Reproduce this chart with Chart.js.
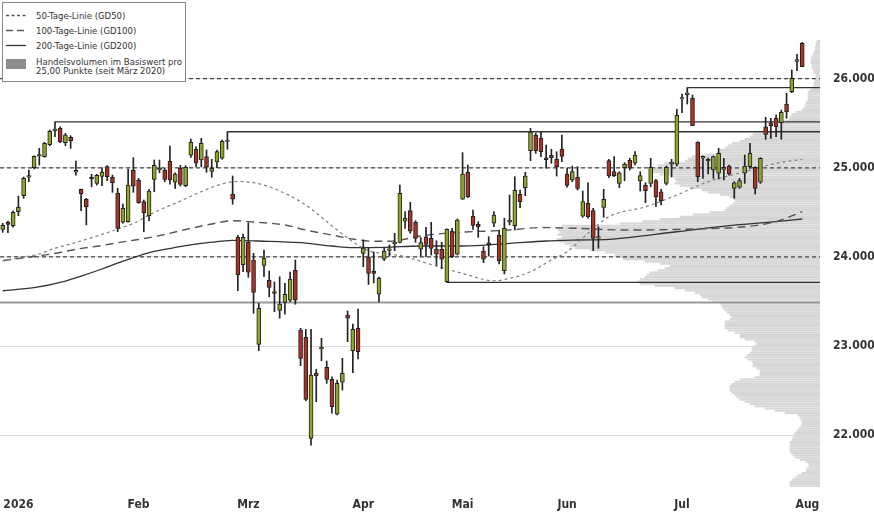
<!DOCTYPE html>
<html>
<head>
<meta charset="utf-8">
<script src="https://cdn.jsdelivr.net/npm/chart.js@4.4.1/dist/chart.umd.min.js"></script>
<style>
body { margin: 0; background: #fff; }
#wrap { position: relative; width: 874px; height: 515px; }
#legendBox { position: absolute; left: 2px; top: 2px; width: 182px; height: 78px; border: 1px solid #8a8a8a; background: #fff; }
.lg { position: absolute; font: 9.5px 'DejaVu Sans Condensed', 'DejaVu Sans', sans-serif; color: #333; white-space: nowrap; line-height: 11px; }
.lgs { position: absolute; left: 6px; }
</style>
</head>
<body>
<div id="wrap">
  <canvas id="chart" width="874" height="515"></canvas>
  <div id="legendBox"></div>
  <svg class="lgs" style="top:14px" width="20" height="3"><line x1="0" y1="1.5" x2="20" y2="1.5" stroke="#555" stroke-width="1.3" stroke-dasharray="3,2.5"/></svg>
  <div class="lg" style="left:36px;top:10px">50-Tage-Linie (GD50)</div>
  <svg class="lgs" style="top:29px" width="20" height="3"><line x1="0" y1="1.5" x2="20" y2="1.5" stroke="#555" stroke-width="1.3" stroke-dasharray="7,4"/></svg>
  <div class="lg" style="left:36px;top:25px">100-Tage-Linie (GD100)</div>
  <svg class="lgs" style="top:44px" width="20" height="3"><line x1="0" y1="1.5" x2="20" y2="1.5" stroke="#333" stroke-width="1.3"/></svg>
  <div class="lg" style="left:36px;top:39.5px">200-Tage-Linie (GD200)</div>
  <div class="lgs" style="top:59px;width:20px;height:10px;background:#8c8c8c"></div>
  <div class="lg" style="left:36px;top:57px;line-height:9.4px">Handelsvolumen im Basiswert pro<br>25,00 Punkte (seit März 2020)</div>
</div>
<script>
// Kerzen (Tageswerte), von links nach rechts
const opens = [24310,24389,24351,24508,24687,24895,25001,25132,25125,25259,25418,25443,25282,25343,24950,24759,24647,24897,24826,24905,
  25013,24894,24714,24389,24396,24972,24860,24620,24463,24871,24976,24976,25073,24838,24998,24799,25141,25208,25088,25125,
  24961,25065,25107,25295,24703,24221,23913,24164,23966,23020,23906,23738,23612,23401,23491,23514,23850,23180,23099,21965,
  22695,22968,22762,22627,22235,22594,23349,22948,23199,24041,24000,23840,23582,23975,24072,24148,24162,24401,24521,24389,
  24086,24227,24209,24089,24086,23722,24291,24030,24647,24950,24456,24366,24067,24158,24378,24246,23846,24389,24351,24703,
  24777,25192,25365,25331,25112,25141,25096,25209,24931,24863,24894,24459,24602,24519,24210,24557,25080,24957,24826,25001,
  25084,25051,24852,24804,24826,24856,24732,24826,25042,25040,25772,25822,25780,25286,25107,25096,24976,24939,24983,25020,
  24770,24782,24939,25013,25006,24838,25461,25506,25556,25506,25716,25854,26195,26397];
const highs = [24378,24403,24516,24684,24897,24976,25136,25219,25286,25424,25515,25461,25387,25360,25077,24762,24658,24927,24927,25001,
  25024,24919,24770,24594,24987,25114,24882,24639,24759,25088,25088,24995,25245,24945,25028,25024,25323,25237,25331,25200,
  25096,25200,25312,25405,24908,24243,24258,24384,24041,23480,24078,23842,23719,23778,23704,23831,23966,23199,23188,23188,
  22739,23087,22833,22656,22619,22863,23394,23248,23416,24190,24100,24056,23775,24100,24134,24265,24807,24508,24614,24407,
  24218,24333,24389,24182,24164,24315,24321,24426,25170,25032,24527,24396,24115,24227,24508,24302,24434,24695,24900,24751,
  24950,25443,25387,25405,25256,25208,25181,25368,24995,25020,25013,24740,24833,24546,24339,24759,25096,25125,24957,25058,
  25107,25181,24957,24833,25107,24871,24759,25020,25096,25657,25828,25900,25817,25293,25136,25110,25133,25219,25107,25032,
  24844,24882,25144,25275,25013,25114,25567,25556,25593,25649,25836,26098,26274,26408];
const lows = [24277,24272,24334,24463,24658,24844,24987,25032,25118,25248,25349,25282,25248,25219,24919,24519,24359,24788,24807,24799,
  24856,24725,24283,24378,24389,24725,24602,24283,24407,24732,24945,24844,24818,24770,24796,24788,25118,25013,25013,24950,
  24894,25001,25096,25208,24591,23621,23835,23772,23368,22948,23778,23554,23386,23312,23357,23498,23469,22780,22387,21887,
  22376,22836,22582,22246,22227,22507,23049,22701,22855,23891,23691,23708,23495,23958,24011,24070,24157,24321,24265,24164,
  24008,24003,24022,23906,23868,23715,23992,24022,24645,24665,24310,24221,23936,24011,24339,23921,23809,24359,24302,24553,
  24687,25080,25163,25125,24995,25051,24908,25069,24782,24844,24751,24445,24434,24070,24097,24445,24889,24900,24777,24856,
  24976,25032,24740,24609,24788,24564,24583,24807,24900,25020,25619,25716,25473,24844,24882,24931,24882,24875,24863,24919,
  24658,24770,24826,24995,24706,24826,25320,25331,25349,25320,25556,25843,26090,26135];
const closes = [24355,24366,24501,24557,24882,24912,25129,25150,25275,25410,25435,25293,25368,25304,24972,24710,24564,24875,24916,24950,
  24900,24833,24321,24546,24807,24793,24609,24496,24740,25028,24995,24871,24863,24931,24815,25006,25286,25051,25275,25006,
  24995,25181,25298,25312,24647,23801,24221,23828,23603,23424,23985,23659,23592,23472,23581,23753,23514,22863,22403,22676,
  22664,22988,22627,22320,22582,22695,23312,23188,22937,24100,23814,23814,23760,24065,24092,24168,24714,24434,24288,24209,
  24162,24142,24097,24030,23974,24310,24003,24415,24931,24676,24355,24339,23974,24138,24471,23958,24321,24415,24748,24620,
  24908,25402,25192,25181,25092,25114,25013,25129,24804,24957,24770,24620,24452,24209,24230,24647,24908,24912,24945,25040,
  24995,25144,24912,24743,25006,24676,24631,25006,25062,25589,25787,25842,25473,24900,25129,25077,25125,25163,25006,24931,
  24833,24856,25020,25163,24770,25107,25376,25473,25461,25623,25630,26004,26215,26135];

// Monatsbeschriftung: Index der Kerze am Monatsanfang
const monthTickIdx = [3, 26, 47, 69, 88, 108, 130, 154];
const monthLabels = ['2026', 'Feb', 'Mrz', 'Apr', 'Mai', 'Jun', 'Jul', 'Aug'];
const priceTicks = [22000, 23000, 24000, 25000, 26000];

const gd50Idx = [0,3,7,10,13,19,22,26,28,30,34,38,42,45,48,51,54,58,61,64,67,70,74,77,81,88,94,97,101,105,108,112,116,123,129,135,142,148,153];
const gd50 = [23958,23990,24033,24098,24145,24253,24312,24403,24471,24527,24628,24732,24819,24847,24833,24788,24714,24583,24445,24302,24171,24070,24033,24003,23932,23816,23733,23760,23835,23966,24059,24265,24452,24563,24695,24844,24956,25051,25096];
const gd100Idx = [0,3,9,14,19,22,26,31,35,40,44,48,54,58,63,67,71,74,80,86,97,103,110,119,132,142,148,153];
const gd100 = [23958,23983,24030,24086,24129,24160,24196,24252,24308,24370,24407,24392,24359,24302,24246,24201,24176,24176,24235,24272,24302,24330,24321,24302,24313,24339,24396,24508];
const gd200Idx = [0,6,12,15,19,22,25,28,31,35,38,41,44,49,57,63,67,73,80,88,97,104,110,116,129,139,148,153];
const gd200 = [23621,23655,23730,23785,23865,23930,23992,24048,24084,24127,24153,24171,24187,24179,24160,24123,24104,24108,24123,24123,24153,24179,24190,24198,24283,24351,24396,24426];

// Marken
const dashedLevels = [24000, 25000, 26000];
const levelValues = [25515, 25405, 25900, 23715, 23490];
const levelStartIdx = [10, 43, 131, 85, null];

// Volumenprofil pro 25 Punkte, von oben (26.425) nach unten
const profileTop = 26425;
const profileStep = 25;
const profileVolume = [3,4,4,5,5,6,7,8,9, 9,9,8,8,7,6,5,4,4, 5,6,6,7,10,12,12,12,12,
  13,14,15,16,18,24,28,30,31, 35,40,40,42,45,55,67,70,75, 80,88,92,95,100,102,115,128,132,
  135,155,162,165,170,168,160,150,145, 143,145,140,130,118,112,100,90,87, 85,87,90,93,95,110,127,140,160,
  177,200,258,255,262,260,262,258,263, 260,255,250,245,230,215,205,200,197, 175,160,150,155,162,170,173,175,180,
  182,180,165,145,135,125,120,118,112, 107,100,98,97,95,93,90,88,90, 95,95,95,95,92,85,80,80,75,
  65,63,65,68,68,70,73,75,72, 68,67,67,63,60,60,60,65,80, 85,88,90,90,90,88,85,83,80,
  75,70,65,55,45,35,22,20,19, 18,18,19,21,23,25,26,27,28, 30,30,30,30,30,29,27,25,20,
  14,11,11,13,14,18,22,25,28, 30,30,30];

const X_MIN = -0.52, X_MAX = 156.4;
const Y_MIN = 21419, Y_MAX = 26883;
const GREEN = '#8fa624', RED = '#a83224';

const fmt = v => String(v).replace(/\B(?=(\d{3})+(?!\d))/g, '.');
const idx = opens.map((_, i) => i);
const pts = (xs, ys) => xs.map((x, i) => ({ x: x, y: ys[i] }));
const noPad = s => { s.paddingTop = 0; s.paddingBottom = 0; s.paddingLeft = 0; s.paddingRight = 0; };

const datasets = [
    {
        type: 'bar', label: 'Kerzen', order: 1, xAxisID: 'x', yAxisID: 'y',
        data: idx.map(i => ({ x: i, y: [opens[i], closes[i]] })),
        backgroundColor: c => closes[c.dataIndex] >= opens[c.dataIndex] ? GREEN : RED,
        borderColor: '#222', borderWidth: 1, borderSkipped: false,
        barThickness: 4, grouped: false
    },
    {
        type: 'bar', label: 'Dochte', order: 2, xAxisID: 'x', yAxisID: 'y',
        data: idx.map(i => ({ x: i, y: [lows[i], highs[i]] })),
        backgroundColor: '#222', borderWidth: 0, barThickness: 1, grouped: false
    },
    {
        type: 'line', label: 'GD50', order: 3, xAxisID: 'x', yAxisID: 'y',
        data: pts(gd50Idx, gd50), borderColor: '#808080', borderWidth: 1.2, borderDash: [3, 3],
        pointRadius: 0, cubicInterpolationMode: 'monotone'
    },
    {
        type: 'line', label: 'GD100', order: 3, xAxisID: 'x', yAxisID: 'y',
        data: pts(gd100Idx, gd100), borderColor: '#555', borderWidth: 1.4, borderDash: [8, 5],
        pointRadius: 0, cubicInterpolationMode: 'monotone'
    },
    {
        type: 'line', label: 'GD200', order: 3, xAxisID: 'x', yAxisID: 'y',
        data: pts(gd200Idx, gd200), borderColor: '#333', borderWidth: 1.3,
        pointRadius: 0, cubicInterpolationMode: 'monotone'
    },
    {
        type: 'bar', label: 'Volumen', order: 10, indexAxis: 'y', xAxisID: 'xv', yAxisID: 'y',
        data: profileVolume.map((v, i) => ({ x: v, y: profileTop - i * profileStep })),
        backgroundColor: '#d6d6d6', borderWidth: 0, barThickness: 1.5, grouped: false
    }
];

dashedLevels.forEach(lv => datasets.push({
    type: 'line', order: 4, xAxisID: 'x', yAxisID: 'y',
    data: [{ x: X_MIN, y: lv }, { x: X_MAX, y: lv }],
    borderColor: '#444', borderWidth: 1.2, borderDash: [4, 3], pointRadius: 0
}));

levelValues.forEach((lv, i) => datasets.push({
    type: 'line', order: 4, xAxisID: 'x', yAxisID: 'y',
    data: [{ x: levelStartIdx[i] === null ? X_MIN : levelStartIdx[i], y: lv }, { x: X_MAX, y: lv }],
    borderColor: levelStartIdx[i] === null ? '#999' : '#333',
    borderWidth: levelStartIdx[i] === null ? 2 : 1.3,
    pointRadius: 0
}));

const tickFont = { family: "'DejaVu Sans Condensed', 'DejaVu Sans', sans-serif", size: 12, weight: 'bold' };

new Chart(document.getElementById('chart'), {
    type: 'line',
    data: { datasets: datasets },
    options: {
        responsive: false,
        animation: false,
        layout: { padding: 0, autoPadding: false },
        plugins: { legend: { display: false }, tooltip: { enabled: false } },
        scales: {
            x: {
                type: 'linear', position: 'bottom', min: X_MIN, max: X_MAX, offset: false,
                grid: { display: false, drawTicks: false, offset: false }, border: { display: false },
                afterBuildTicks: s => { s.ticks = monthTickIdx.map(v => ({ value: v })); },
                afterFit: s => { s.height = 28; noPad(s); },
                ticks: {
                    autoSkip: false, maxRotation: 0, padding: 11, color: '#333', font: tickFont,
                    callback: v => monthLabels[monthTickIdx.indexOf(v)]
                }
            },
            xv: {
                type: 'linear', axis: 'x', position: 'bottom', min: 0, max: 820, reverse: true,
                offset: false, display: false
            },
            y: {
                type: 'linear', position: 'right', min: Y_MIN, max: Y_MAX, offset: false,
                grid: { color: '#dcdcdc', drawTicks: false, offset: false }, border: { display: false },
                afterBuildTicks: s => { s.ticks = priceTicks.map(v => ({ value: v })); },
                afterFit: s => { s.width = 54; noPad(s); },
                ticks: { padding: 13, color: '#333', font: tickFont, callback: v => fmt(v) }
            }
        }
    }
});
</script>
</body>
</html>
